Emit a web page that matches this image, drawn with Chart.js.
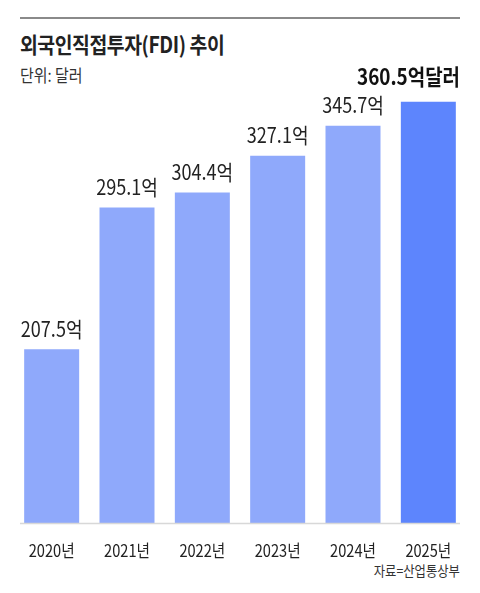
<!DOCTYPE html>
<html><head><meta charset="utf-8">
<script src="https://cdn.jsdelivr.net/npm/chart.js@4"></script>
<style>
body{margin:0;background:#fff;font-family:"Noto Sans CJK KR","Noto Sans",sans-serif;}
#wrap{position:relative;width:480px;height:593px;}
.t{position:absolute;white-space:nowrap;transform-origin:left top;}
#rule{position:absolute;left:20px;top:17px;width:440px;height:2px;background:#8a8a8a;}
</style></head><body>
<div id="wrap">
<div id="rule"></div>
<div class="t" style="left:20px;top:27px;font-size:22px;font-weight:700;color:#222;transform:scaleX(0.88);letter-spacing:-0.5px">외국인직접투자(FDI) 추이</div>
<div class="t" style="left:20px;top:62px;font-size:17px;color:#333;transform:scaleX(0.88)">단위: 달러</div>
<div class="t" style="right:20px;top:560px;font-size:14px;color:#333;transform-origin:right top;transform:scaleX(0.88)">자료=산업통상부</div>
<canvas id="c" width="480" height="593" style="position:absolute;left:0;top:0"></canvas>
</div>
<script>
const categories=["2020년","2021년","2022년","2023년","2024년","2025년"];
const values=[207.5,295.1,304.4,327.1,345.7,360.5];
const valueLabels=["207.5억","295.1억","304.4억","327.1억","345.7억","360.5억달러"];
const colors=["#8fa9fb","#8fa9fb","#8fa9fb","#8fa9fb","#8fa9fb","#5d85fd"];
const labelPlugin={id:"lbl",afterDatasetsDraw(chart){
  const ctx=chart.ctx;const meta=chart.getDatasetMeta(0);
  const base=chart.scales.y.getPixelForValue(100);
  ctx.save();
  ctx.strokeStyle="#d8d8d8";ctx.lineWidth=1.5;ctx.beginPath();ctx.moveTo(20,base+0.5);ctx.lineTo(460,base+0.5);ctx.stroke();
  meta.data.forEach((b,i)=>{
    const last=i===values.length-1;
    ctx.save();ctx.translate(b.x,last?b.y-14:b.y-10);ctx.scale(0.86,1);
    ctx.textAlign="center";ctx.textBaseline="bottom";
    ctx.fillStyle=last?"#111":"#222";
    ctx.font=(last?"700 22px":"400 21px")+' "Noto Sans CJK KR"';
    if(last){ctx.textAlign="right";ctx.translate((460-b.x)/0.86,-(b.y-14)+88);}
    ctx.fillText(valueLabels[i],0,0);ctx.restore();
    ctx.save();ctx.translate(b.x,base+28);ctx.scale(0.86,1);
    ctx.textAlign="center";ctx.textBaseline="middle";ctx.fillStyle="#222";
    ctx.font='400 17px "Noto Sans CJK KR"';ctx.fillText(categories[i],0,0);ctx.restore();
  });
  ctx.restore();
}};
new Chart(document.getElementById("c"),{type:"bar",
 data:{labels:categories,datasets:[{data:values,backgroundColor:colors,barPercentage:0.73,categoryPercentage:1}]},
 options:{responsive:false,animation:false,
  layout:{padding:{left:14,right:14,top:38,bottom:70}},
  plugins:{legend:{display:false},tooltip:{enabled:false}},
  scales:{x:{display:false},y:{display:false,min:100,max:400}}},
 plugins:[labelPlugin]});
</script></body></html>
